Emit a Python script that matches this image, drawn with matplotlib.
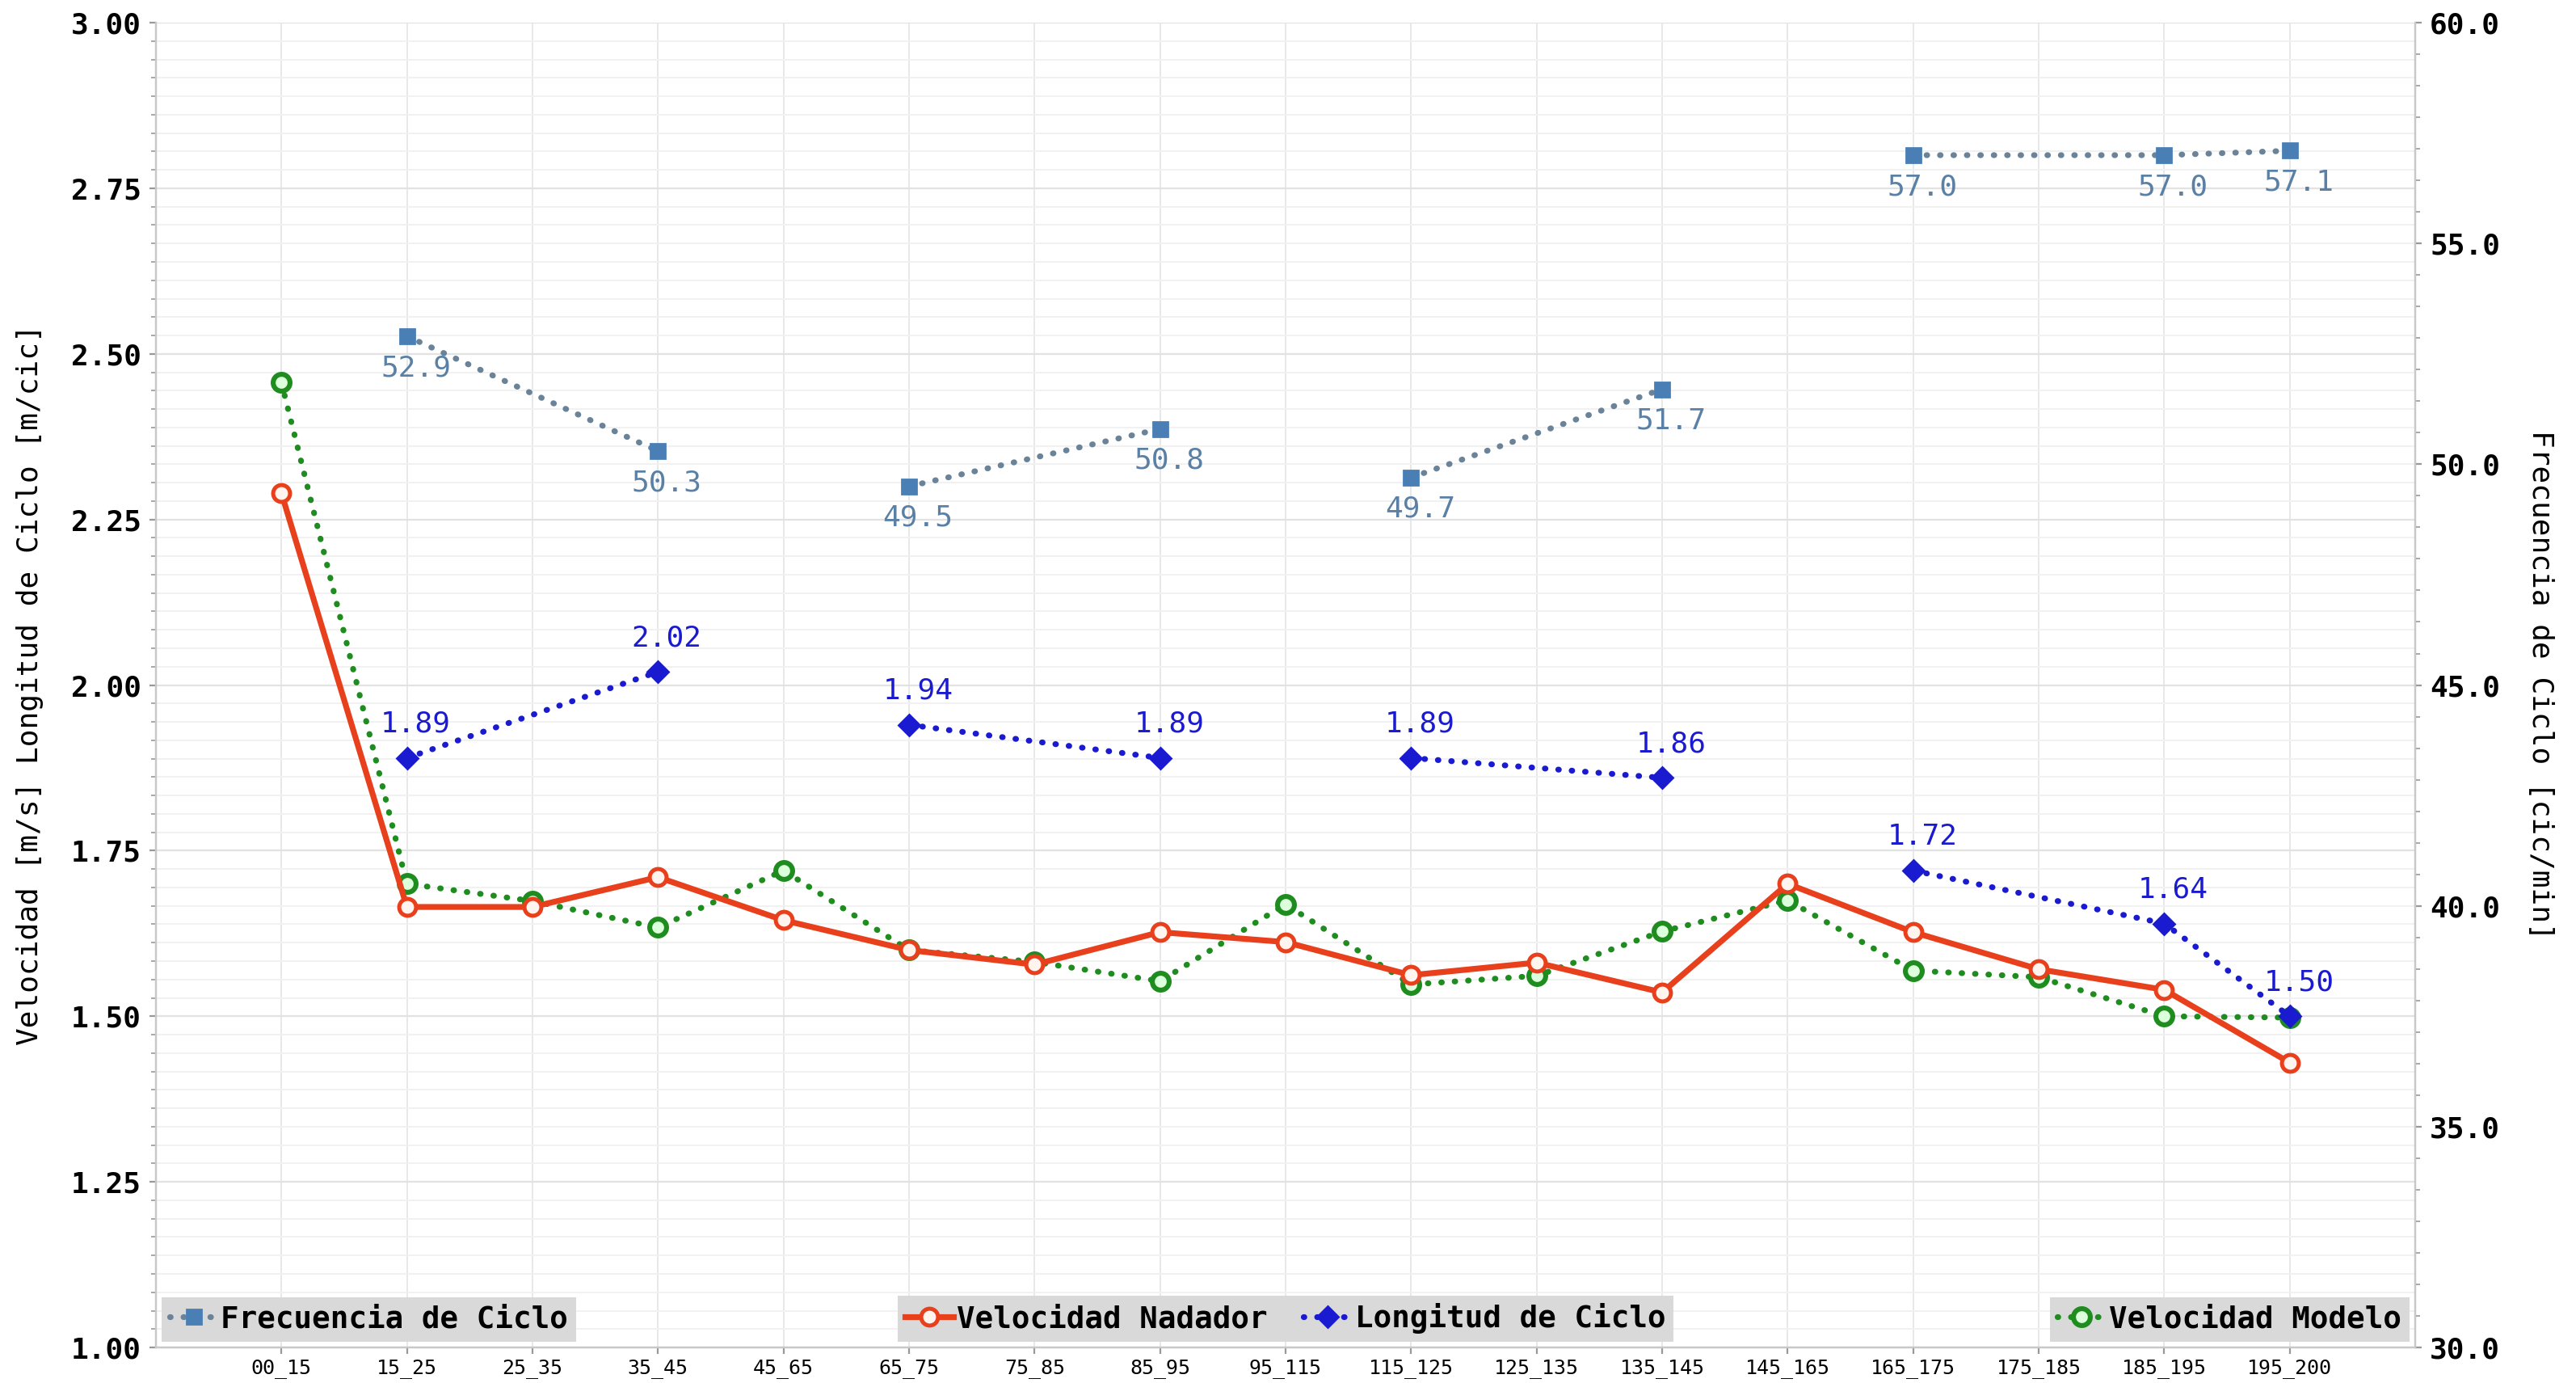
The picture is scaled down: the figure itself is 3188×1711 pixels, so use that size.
import numpy as np
import matplotlib
matplotlib.use("Agg")
import matplotlib.pyplot as plt
from matplotlib.ticker import MultipleLocator, AutoMinorLocator, FormatStrFormatter

plt.rcParams['font.family'] = ['DejaVu Sans Mono']

# tramos de la prueba
categorias = ['00_15', '15_25', '25_35', '35_45', '45_65', '65_75', '75_85', '85_95',
              '95_115', '115_125', '125_135', '135_145', '145_165', '165_175',
              '175_185', '185_195', '195_200']

vel_nadador = [2.29, 1.665, 1.665, 1.71, 1.645, 1.60, 1.578, 1.627, 1.612, 1.562,
               1.581, 1.536, 1.70, 1.627, 1.571, 1.54, 1.43]
vel_modelo = [2.457, 1.70, 1.674, 1.634, 1.72, 1.60, 1.582, 1.553, 1.669, 1.548,
              1.561, 1.628, 1.675, 1.569, 1.559, 1.50, 1.498]
long_ciclo = [None, 1.89, None, 2.02, None, 1.94, None, 1.89, None, 1.89, None,
              1.86, None, 1.72, None, 1.64, 1.50]
frec_ciclo = [None, 52.9, None, 50.3, None, 49.5, None, 50.8, None, 49.7, None,
              51.7, None, 57.0, None, 57.0, 57.1]

# tramos unidos por la misma linea
segmentos = [[1, 3], [5, 7], [9, 11], [13, 15, 16]]

c_vel = '#e8401c'
c_mod = '#1e8c1e'
c_long = '#1a1ad0'
c_frec_m = '#4a7fb5'
c_frec_l = '#6a8398'
c_frec_t = '#5a80a6'
dots = (0, (0.1, 2.2))

x = np.arange(len(categorias))

fig = plt.figure(figsize=(15.94, 8.555), dpi=200)
ax = fig.add_axes([0.0605, 0.0257, 0.8771, 0.9579])
ax2 = ax.twinx()
ax2.set_zorder(ax.get_zorder() + 1)
ax2.patch.set_visible(False)

# velocidades
h_vel, = ax.plot(x, vel_nadador, color=c_vel, lw=2.6, marker='o', ms=7.5,
                 mfc='#fff4ee', mec=c_vel, mew=1.8, label='Velocidad Nadador', zorder=4)
h_mod, = ax.plot(x, vel_modelo, color=c_mod, lw=2.6, ls=dots, dash_capstyle='round',
                 marker='o', ms=7.5, mfc='#dcffdc', mec=c_mod, mew=2.2,
                 label='Velocidad Modelo', zorder=3)

# longitud de ciclo
h_long = None
for seg in segmentos:
    xs = [x[i] for i in seg]
    ys = [long_ciclo[i] for i in seg]
    h_long, = ax.plot(xs, ys, color=c_long, lw=2.6, ls=dots, dash_capstyle='round',
                      marker='D', ms=6.5, mfc=c_long, mec=c_long,
                      label='Longitud de Ciclo', zorder=5)
    for xi, yi in zip(xs, ys):
        ax.annotate(f'{yi:.2f}', (xi, yi), xytext=(4, 9), textcoords='offset points',
                    ha='center', va='bottom', fontsize=13, color=c_long, zorder=6)

# frecuencia de ciclo (eje derecho)
h_frec = None
for seg in segmentos:
    xs = [x[i] for i in seg]
    ys = [frec_ciclo[i] for i in seg]
    h_frec, = ax2.plot(xs, ys, color=c_frec_l, lw=2.6, ls=dots, dash_capstyle='round',
                       marker='s', ms=6.5, mfc=c_frec_m, mec=c_frec_m,
                       label='Frecuencia de Ciclo', zorder=5)
    for xi, yi in zip(xs, ys):
        ax2.annotate(f'{yi:.1f}', (xi, yi), xytext=(4, -8), textcoords='offset points',
                     ha='center', va='top', fontsize=13, color=c_frec_t, zorder=6)

ax.set_xlim(-1, len(categorias))
ax.set_ylim(1.0, 3.0)
ax2.set_ylim(30, 60)
ax.set_xticks(x)
ax.set_xticklabels(categorias, fontsize=9)
ax.yaxis.set_major_locator(MultipleLocator(0.25))
ax.yaxis.set_major_formatter(FormatStrFormatter('%.2f'))
ax.yaxis.set_minor_locator(AutoMinorLocator(9))
ax2.yaxis.set_major_locator(MultipleLocator(5))
ax2.yaxis.set_major_formatter(FormatStrFormatter('%.1f'))
ax2.yaxis.set_minor_locator(AutoMinorLocator(7))

for a in (ax, ax2):
    a.tick_params(axis='y', labelsize=13, length=3, color='#999999')
    a.tick_params(axis='y', which='minor', length=2, color='#999999')
    a.tick_params(axis='x', length=3, color='#999999', pad=2)
    for lab in a.get_yticklabels():
        lab.set_fontweight('bold')
    for sp in a.spines.values():
        sp.set_color('#c8c8c8')
    a.spines['top'].set_visible(False)

ax.grid(True, which='major', axis='x', color='#e4e4e4', lw=0.6)
ax.grid(True, which='major', axis='y', color='#e2e2e2', lw=0.8)
ax.grid(True, which='minor', axis='y', color='#f1f1f1', lw=0.7)

ax.set_ylabel('Velocidad [m/s] Longitud de Ciclo [m/cic]', fontsize=13, labelpad=12)
ax2.set_ylabel('Frecuencia de Ciclo [cic/min]', fontsize=13, rotation=270, labelpad=24)

# leyendas separadas, abajo
ley = dict(facecolor='#d9d9d9', edgecolor='none', framealpha=1, fancybox=False,
           handlelength=1.6, handletextpad=0.1, borderpad=0.25, borderaxespad=0.2,
           prop={'size': 13.5, 'weight': 'bold'})
l1 = ax2.legend(handles=[h_frec], loc='lower left', **ley)
ax2.add_artist(l1)
l2 = ax2.legend(handles=[h_vel, h_long], loc='lower center', ncol=2,
                columnspacing=1.2, **ley)
ax2.add_artist(l2)
ax2.legend(handles=[h_mod], loc='lower right', **ley)

fig.savefig('out.png', dpi=200)
